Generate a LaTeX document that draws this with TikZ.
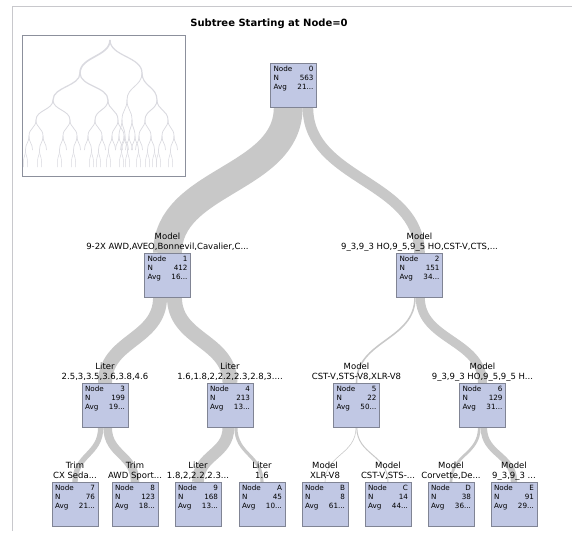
\documentclass[tikz,border=0pt]{standalone}
\usepackage{fontspec}
\setmainfont{DejaVu Sans}
\usetikzlibrary{positioning, backgrounds}
\definecolor{boxfill}{RGB}{193,200,228}
\definecolor{boxline}{RGB}{128,132,148}
\definecolor{bandgray}{RGB}{200,200,200}
\definecolor{ovgray}{RGB}{218,218,224}
\definecolor{framegray}{RGB}{200,200,204}
\definecolor{insetgray}{RGB}{140,144,156}
\tikzset{
x=1pt, y=-1pt, % one unit is one pixel of the reference, y runs downwards
treenode/.style={draw=boxline, fill=boxfill, inner sep=3pt, anchor=north, font=\fontsize{7.2}{8.7}\selectfont}, % the node boxes
splitlabel/.style={anchor=south, align=center, inner sep=0pt, text depth=0pt, font=\fontsize{8.5}{10}\selectfont}, % split rule above a box
band/.style={draw=bandgray, line cap=butt}, % links, width follows N
ovband/.style={draw=ovgray, line width=0.7pt}, % links of the overview
}
\newcommand{\nodestats}[3]{\begin{minipage}[c][38pt][t]{40pt}Node\hfill#1\\N\hfill#2\\Avg\hfill#3\end{minipage}}

\begin{document}
\begin{tikzpicture}
\useasboundingbox (0,0) rectangle (572,538);
\draw[framegray] (12,531) -- (12,6) -- (572,6);
\node[font=\bfseries\fontsize{10}{12}\selectfont] (title) at (269,24) {Subtree Starting at Node=0};

% overview of the whole tree
\draw[insetgray] (22,35) rectangle (185,176);
\foreach \xa/\ya/\xb/\yb/\w in {110/40/80/73/1.6, 110/40/142/73/1.2, 80/73/53/100/1.2, 80/73/108/100/1.2,
    142/73/127/100/0.8, 142/73/157/100/1.1, 53/100/36/120/0.9, 53/100/70/120/0.9, 108/100/95/120/0.9,
    108/100/118/120/0.9, 127/100/122/120/0.7, 127/100/132/120/0.7, 157/100/145/120/0.9, 157/100/168/120/0.9}
  \draw[ovband, line width=\w] (\xa,\ya) .. controls (\xa,{(\ya+\yb)/2}) and (\xb,{(\ya+\yb)/2}) .. (\xb,\yb);
\foreach \x/\d in {36/7, 70/7, 95/7, 118/6, 122/3, 132/3, 145/6, 168/6}
  \foreach \s in {-1,1}
    \draw[ovband] (\x,120) .. controls (\x,128) and ({\x+\s*\d},128) .. ({\x+\s*\d},136);
\foreach \x in {29,43,63,77,88,102,112,124,119,125,129,135,139,151,162,174}
  \foreach \s in {-1,1}
    \draw[ovband, line width=0.6pt] (\x,136) .. controls (\x,143) and ({\x+\s*3.5},143) .. ({\x+\s*3.5},150);
\foreach \x in {25.5,39.5,59.5,73.5,91.5,98.5,108.5,127.5,121.5,138.5,147.5,154.5,158.5,170.5}
  \foreach \s in {-1,1}
    \draw[ovband, line width=0.5pt] (\x,150) .. controls (\x,156) and ({\x+\s*2},156) .. ({\x+\s*2},162) -- ({\x+\s*2},167);

% the subtree
\node[treenode] (n0) at (293.5,63) {\nodestats{0}{563}{21...}};

\node[treenode] (n1) at (167.5,253) {\nodestats{1}{412}{16...}};
\node[treenode] (n2) at (419.5,253) {\nodestats{2}{151}{34...}};

\node[treenode] (n3) at (105,383) {\nodestats{3}{199}{19...}};
\node[treenode] (n4) at (230,383) {\nodestats{4}{213}{13...}};
\node[treenode] (n5) at (356.5,383) {\nodestats{5}{22}{50...}};
\node[treenode] (n6) at (482.5,383) {\nodestats{6}{129}{31...}};

\node[treenode] (n7) at (75,482) {\nodestats{7}{76}{21...}};
\node[treenode] (n8) at (135,482) {\nodestats{8}{123}{18...}};
\node[treenode] (n9) at (198,482) {\nodestats{9}{168}{13...}};
\node[treenode] (nA) at (262,482) {\nodestats{A}{45}{10...}};
\node[treenode] (nB) at (325,482) {\nodestats{B}{8}{61...}};
\node[treenode] (nC) at (388,482) {\nodestats{C}{14}{44...}};
\node[treenode] (nD) at (451,482) {\nodestats{D}{38}{36...}};
\node[treenode] (nE) at (514,482) {\nodestats{E}{91}{29...}};

% split rules
\node[splitlabel] (r1) at ([yshift=3pt]n1.north) {Model\\9-2X AWD,AVEO,Bonnevil,Cavalier,C...};
\node[splitlabel] (r2) at ([yshift=3pt]n2.north) {Model\\9\_3,9\_3 HO,9\_5,9\_5 HO,CST-V,CTS,...};
\node[splitlabel] (r3) at ([yshift=3pt]n3.north) {Liter\\2.5,3,3.5,3.6,3.8,4.6};
\node[splitlabel] (r4) at ([yshift=3pt]n4.north) {Liter\\1.6,1.8,2,2.2,2.3,2.8,3....};
\node[splitlabel] (r5) at ([yshift=3pt]n5.north) {Model\\CST-V,STS-V8,XLR-V8};
\node[splitlabel] (r6) at ([yshift=3pt]n6.north) {Model\\9\_3,9\_3 HO,9\_5,9\_5 H...};
\node[splitlabel] (r7) at ([yshift=3pt]n7.north) {Trim\\CX Seda...};
\node[splitlabel] (r8) at ([yshift=3pt]n8.north) {Trim\\AWD Sport...};
\node[splitlabel] (r9) at ([yshift=3pt]n9.north) {Liter\\1.8,2,2.2,2.3...};
\node[splitlabel] (rA) at ([yshift=3pt]nA.north) {Liter\\1.6};
\node[splitlabel] (rB) at ([yshift=3pt]nB.north) {Model\\XLR-V8};
\node[splitlabel] (rC) at ([yshift=3pt]nC.north) {Model\\CST-V,STS-...};
\node[splitlabel] (rD) at ([yshift=3pt]nD.north) {Model\\Corvette,De...};
\node[splitlabel] (rE) at ([yshift=3pt]nE.north) {Model\\9\_3,9\_3 ...};

% links behind everything
\begin{scope}[on background layer]
\fill[white] (0,0) rectangle (572,538);
\draw[band, line width=28.84] ([xshift=-5.29]n0.south) .. controls +(0,73) and +(0,-73) .. (n1.north);
\draw[band, line width=10.57] ([xshift=14.42]n0.south) .. controls +(0,73) and +(0,-73) .. (n2.north);
\draw[band, line width=13.93] ([xshift=-7.46]n1.south) .. controls +(0,43) and +(0,-43) .. (n3.north);
\draw[band, line width=14.91] ([xshift=6.97]n1.south) .. controls +(0,43) and +(0,-43) .. (n4.north);
\draw[band, line width=1.54] ([xshift=-4.52]n2.south) .. controls +(0,43) and +(0,-43) .. (n5.north);
\draw[band, line width=9.03] ([xshift=0.77]n2.south) .. controls +(0,43) and +(0,-43) .. (n6.north);
\draw[band, line width=5.32] ([xshift=-4.31]n3.south) .. controls +(0,27.5) and +(0,-27.5) .. (n7.north);
\draw[band, line width=8.61] ([xshift=2.66]n3.south) .. controls +(0,27.5) and +(0,-27.5) .. (n8.north);
\draw[band, line width=11.76] ([xshift=-1.58]n4.south) .. controls +(0,27.5) and +(0,-27.5) .. (n9.north);
\draw[band, line width=3.15] ([xshift=5.88]n4.south) .. controls +(0,27.5) and +(0,-27.5) .. (nA.north);
\draw[band, line width=0.56] ([xshift=-0.49]n5.south) .. controls +(0,27.5) and +(0,-27.5) .. (nB.north);
\draw[band, line width=0.98] ([xshift=0.28]n5.south) .. controls +(0,27.5) and +(0,-27.5) .. (nC.north);
\draw[band, line width=2.66] ([xshift=-3.19]n6.south) .. controls +(0,27.5) and +(0,-27.5) .. (nD.north);
\draw[band, line width=6.37] ([xshift=1.33]n6.south) .. controls +(0,27.5) and +(0,-27.5) .. (nE.north);
\end{scope}
\end{tikzpicture}
\end{document}
